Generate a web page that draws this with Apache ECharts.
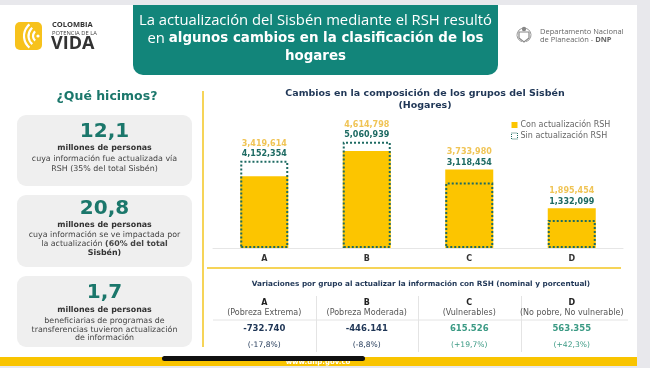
<!DOCTYPE html>
<html><head><meta charset="utf-8">
<script src="https://cdn.jsdelivr.net/npm/echarts@6/dist/echarts.min.js"></script>
<style>html,body{margin:0;padding:0;background:#e8e8ec}#c{width:650px;height:368px}</style>
</head><body><div id="c"></div>
<script>
// ---- data ----
const categories = ['A', 'B', 'C', 'D'];
const seriesNames = ['Con actualización RSH', 'Sin actualización RSH'];
const conRSH = [3419614, 4614798, 3733980, 1895454];
const sinRSH = [4152354, 5060939, 3118454, 1332099];
const groupDesc = ['(Pobreza Extrema)', '(Pobreza Moderada)', '(Vulnerables)', '(No pobre, No vulnerable)'];
const variacionNominal = [-732740, -446141, 615526, 563355];
const variacionPct = [-17.8, -8.8, 19.7, 42.3];
const yTicks = [0, 6000000];

const FF = '"DejaVu Sans", Verdana, sans-serif';
const OS = '"Open Sans", "Noto Sans", sans-serif';
const TEAL = '#1b776b', NAVY = '#1f3656', YEL = '#fcc500', POS = '#3b9a84', DOT = '#1d6a62';

function grp(n, sep) { return String(Math.abs(n)).replace(/\B(?=(\d{3})+(?!\d))/g, sep); }
function fmtEn(n) { return (n < 0 ? '-' : '') + grp(n, ','); }
function fmtEs(n) { return (n < 0 ? '-' : '') + grp(n, '.'); }
function fmtPct(n) { return '(' + (n > 0 ? '+' : '') + n.toFixed(1).replace('.', ',') + '%)'; }

function T(x, y, text, size, fill, opts) {
  opts = opts || {};
  return { type: 'text', x: x, y: y, z: 5, style: Object.assign({
    text: text, fontSize: size, fontFamily: opts.ff || FF, fontWeight: opts.bold ? 'bold' : 'normal',
    fill: fill, align: opts.align || 'center', verticalAlign: 'middle'
  }, opts.rich ? { rich: opts.rich } : {}) };
}

function staticGraphics() {
  const g = [];
  g.push({ type: 'rect', z: -10, shape: { x: 0, y: 5, width: 637, height: 352 }, style: { fill: '#ffffff' } });
  // title box
  g.push({ type: 'rect', z: 1, shape: { x: 133, y: 5, width: 365, height: 70, r: [0, 0, 10, 10] }, style: { fill: '#12857a' } });
  g.push(T(315.5, 21, 'La actualización del Sisbén mediante el RSH resultó', 14.8, '#fff', { ff: OS }));
  g.push(T(315.5, 39, '{r|en }{b|algunos cambios en la clasificación de los}', 14, '#fff', { rich: {
    r: { fontFamily: OS, fontSize: 14.8, color: '#fff' },
    b: { fontFamily: FF, fontSize: 13.4, fontWeight: 'bold', color: '#fff' } } }));
  g.push(T(315.5, 57, 'hogares', 13.4, '#fff', { bold: true }));
  // Colombia logo
  g.push({ type: 'rect', z: 1, shape: { x: 15, y: 22, width: 27, height: 28, r: 5 }, style: { fill: '#f7c21c' } });
  [6, 10.5, 15].forEach(function (r) {
    g.push({ type: 'arc', z: 2, shape: { cx: 39, cy: 36, r: r, startAngle: Math.PI * 0.72, endAngle: Math.PI * 1.28 }, style: { stroke: '#fff', lineWidth: 2.2, fill: null } });
  });
  g.push({ type: 'circle', z: 2, shape: { cx: 38, cy: 36, r: 1.6 }, style: { fill: '#fff' } });
  g.push(T(52, 25, 'COLOMBIA', 7.5, '#333', { bold: true, align: 'left', ff: OS }));
  g.push(T(52, 33, 'POTENCIA DE LA', 5.8, '#444', { align: 'left', ff: OS }));
  g.push(T(51, 44, 'VIDA', 18, '#333', { bold: true, align: 'left', ff: OS }));
  // DNP logo
  g.push({ type: 'circle', z: 2, shape: { cx: 524, cy: 29, r: 2.2 }, style: { fill: '#888' } });
  g.push({ type: 'polygon', z: 2, shape: { points: [[519, 32], [529, 32], [529, 38], [524, 42], [519, 38]] }, style: { fill: 'none', stroke: '#888', lineWidth: 1.2 } });
  g.push({ type: 'arc', z: 2, shape: { cx: 524, cy: 35, r: 7, startAngle: Math.PI * 0.6, endAngle: Math.PI * 1.4 }, style: { stroke: '#999', lineWidth: 1, fill: null } });
  g.push({ type: 'arc', z: 2, shape: { cx: 524, cy: 35, r: 7, startAngle: -Math.PI * 0.4, endAngle: Math.PI * 0.4 }, style: { stroke: '#999', lineWidth: 1, fill: null } });
  g.push(T(540, 32, 'Departamento Nacional', 7.5, '#666', { align: 'left', ff: OS }));
  g.push(T(540, 40, '{r|de Planeación - }{b|DNP}', 7.5, '#666', { align: 'left', rich: {
    r: { fontFamily: OS, fontSize: 7.5, color: '#666' }, b: { fontFamily: OS, fontSize: 7.5, fontWeight: 'bold', color: '#444' } } }));
  // left panel
  g.push(T(107, 97, '¿Qué hicimos?', 12.5, TEAL, { bold: true }));
  [[115, 71], [195, 72], [276, 71]].forEach(function (c) {
    g.push({ type: 'rect', z: 1, shape: { x: 17, y: c[0], width: 175, height: c[1], r: 9 }, style: { fill: '#efefef' } });
  });
  const cx = 104.5, d = '#444', fs = 7.9;
  g.push(T(cx, 132, '12,1', 20, TEAL, { bold: true }));
  g.push(T(cx, 148, 'millones de personas', fs, '#333', { bold: true }));
  g.push(T(cx, 159, 'cuya información fue actualizada vía', fs, d));
  g.push(T(cx, 169, '{r|RSH (}{t|35%}{r| del total Sisbén)}', fs, d, { rich: {
    r: { fontFamily: FF, fontSize: fs, color: d }, t: { fontFamily: FF, fontSize: fs, color: POS } } }));
  g.push(T(cx, 209, '20,8', 20, TEAL, { bold: true }));
  g.push(T(cx, 225, 'millones de personas', fs, '#333', { bold: true }));
  g.push(T(cx, 235, 'cuya información se ve impactada por', fs, d));
  g.push(T(cx, 244, '{r|la actualización }{b|(60% del total}', fs, d, { rich: {
    r: { fontFamily: FF, fontSize: fs, color: d }, b: { fontFamily: FF, fontSize: fs, fontWeight: 'bold', color: '#333' } } }));
  g.push(T(cx, 253, 'Sisbén)', fs, '#333', { bold: true }));
  g.push(T(cx, 293, '1,7', 20, TEAL, { bold: true }));
  g.push(T(cx, 310, 'millones de personas', fs, '#333', { bold: true }));
  g.push(T(cx, 321, 'beneficiarias de programas de', fs, d));
  g.push(T(cx, 329.5, 'transferencias tuvieron actualización', fs, d));
  g.push(T(cx, 338, 'de información', fs, d));
  // chart panel decorations
  g.push({ type: 'line', z: 1, shape: { x1: 203, y1: 91, x2: 203, y2: 347 }, style: { stroke: '#f3c620', lineWidth: 1.5 } });
  g.push({ type: 'line', z: 1, shape: { x1: 207, y1: 268, x2: 621, y2: 268 }, style: { stroke: '#f3c620', lineWidth: 1.5 } });
  g.push(T(425, 94, 'Cambios en la composición de los grupos del Sisbén', 9.5, NAVY, { bold: true }));
  g.push(T(425, 106, '(Hogares)', 9.5, NAVY, { bold: true }));
  g.push(T(421, 284, 'Variaciones por grupo al actualizar la información con RSH (nominal y porcentual)', 7.3, NAVY, { bold: true }));
  g.push({ type: 'line', z: 1, shape: { x1: 213, y1: 320, x2: 628, y2: 320 }, style: { stroke: '#e4e4e4', lineWidth: 1 } });
  // legend dotted icon overlay (legend marker for the outline series)
  // bottom band
  g.push({ type: 'rect', z: 1, shape: { x: 0, y: 357, width: 637, height: 9 }, style: { fill: '#f9c400' } });
  g.push(T(318, 362, 'www.dnp.gov.co', 7, '#fff', { bold: true }));
  g.push({ type: 'rect', z: 10, shape: { x: 162, y: 356, width: 203, height: 5, r: 2.5 }, style: { fill: '#111' } });
  return g;
}

function tableGraphics(xs) {
  const g = [];
  if (!xs) return g;
  for (let i = 0; i < categories.length; i++) {
    const x = xs[i];
    const col = variacionNominal[i] < 0 ? NAVY : POS;
    g.push(T(x, 303, categories[i], 8, '#222', { bold: true }));
    g.push(T(x, 313, groupDesc[i], 8, '#555'));
    g.push(T(x, 329, fmtEs(variacionNominal[i]), 8.5, col, { bold: true }));
    g.push(T(x, 345, fmtPct(variacionPct[i]), 7.6, col));
    if (i > 0) {
      const sx = Math.round((xs[i - 1] + x) / 2) + 0.5;
      g.push({ type: 'line', z: 1, shape: { x1: sx, y1: 296, x2: sx, y2: 352 }, style: { stroke: '#e4e4e4', lineWidth: 1 } });
    }
  }
  return g;
}

function labelFmt(p) {
  const i = p.dataIndex;
  const tallerIsCon = conRSH[i] >= sinRSH[i];
  if ((p.seriesIndex === 0) !== tallerIsCon) return '';
  return '{y|' + fmtEn(conRSH[i]) + '}\n{t|' + fmtEn(sinRSH[i]) + '}';
}
const labelRich = {
  y: { color: '#f0c455', fontSize: 8, fontWeight: 'bold', fontFamily: FF, lineHeight: 10.5 },
  t: { color: DOT, fontSize: 8, fontWeight: 'bold', fontFamily: FF, lineHeight: 10.5 }
};

function buildOption(xs) {
  return {
    animation: false,
    backgroundColor: '#e8e8ec',
    textStyle: { fontFamily: FF },
    grid: { left: 213, right: 27, top: 122, bottom: 120 },
    legend: {
      orient: 'vertical', left: 506, top: 116, itemWidth: 6, itemHeight: 6, itemGap: 3,
      textStyle: { fontSize: 8, color: '#666', fontFamily: FF, padding: [0, 0, 0, -2] },
      data: [
        { name: seriesNames[0], icon: 'rect', itemStyle: { color: YEL, borderWidth: 0 } },
        { name: seriesNames[1], icon: 'rect', itemStyle: { color: '#ffffff', borderColor: DOT, borderWidth: 1, borderType: [1, 1] } }
      ]
    },
    xAxis: {
      type: 'category', data: categories,
      axisLine: { lineStyle: { color: '#e6e6e6', width: 1 } },
      axisTick: { show: false },
      axisLabel: { color: '#333', fontSize: 8, fontWeight: 'bold', margin: 7, fontFamily: FF }
    },
    yAxis: { type: 'value', min: yTicks[0], max: yTicks[1], show: false, splitLine: { show: false } },
    series: [
      { name: seriesNames[0], type: 'bar', data: conRSH, barWidth: 48, barGap: '-100%', z: 2,
        itemStyle: { color: YEL },
        label: { show: true, position: 'top', distance: 1.5, formatter: labelFmt, rich: labelRich } },
      { name: seriesNames[1], type: 'bar', data: sinRSH, barWidth: 48, z: 3,
        itemStyle: { color: 'transparent', borderColor: DOT, borderWidth: 2, borderType: 'dotted' },
        label: { show: true, position: 'top', distance: 1.5, formatter: labelFmt, rich: labelRich } }
    ],
    graphic: { elements: staticGraphics().concat(tableGraphics(xs)) }
  };
}

const chart = echarts.init(document.getElementById('c'), null, { renderer: 'canvas' });
chart.setOption(buildOption(null));
const xs = categories.map(function (c) { return chart.convertToPixel({ xAxisIndex: 0 }, c); });
chart.setOption(buildOption(xs), true);
</script></body></html>
